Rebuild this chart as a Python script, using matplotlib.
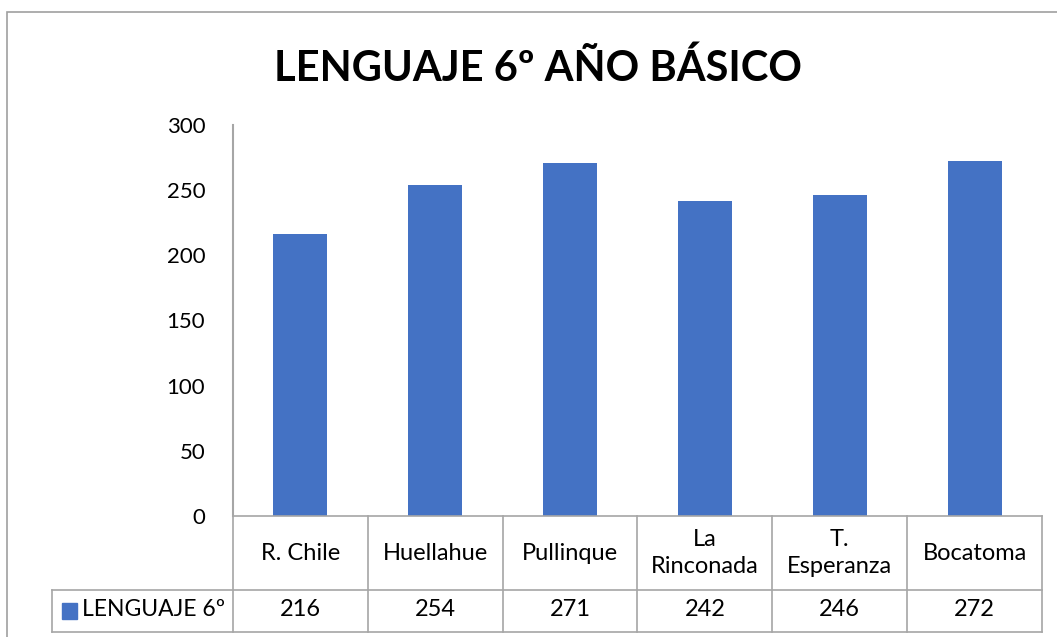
import matplotlib.pyplot as plt
from matplotlib.patches import Rectangle
import matplotlib.transforms as mtransforms

# Datos
escuelas = ['R. Chile', 'Huellahue', 'Pullinque', 'La\nRinconada', 'T.\nEsperanza', 'Bocatoma']
puntajes = [216, 254, 271, 242, 246, 272]
serie = 'LENGUAJE 6º'
titulo = 'LENGUAJE 6º AÑO BÁSICO'
y_ticks = [0, 50, 100, 150, 200, 250, 300]

azul = '#4472C4'
gris = '#A6A6A6'
fuente = 'Lato'

W, H = 1057, 637
fig = plt.figure(figsize=(W / 100, H / 100), dpi=100)

# borde del gráfico
fig.patches.append(Rectangle((7 / W, -0.05), 1.1, 1 - 12 / H + 0.05,
                             transform=fig.transFigure, fill=False,
                             edgecolor='#A0A0A0', linewidth=1.2))

ax = fig.add_axes([233 / W, (H - 516) / H, 809 / W, 391 / H])
x = range(len(escuelas))
ax.bar(x, puntajes, width=0.4, color=azul, zorder=2)
ax.set_xlim(-0.5, len(escuelas) - 0.5)
ax.set_ylim(0, 300)
ax.set_yticks(y_ticks)
ax.set_yticklabels([str(v) for v in y_ticks], fontsize=16, family=fuente)
ax.tick_params(axis='y', length=0, pad=20)
ax.set_xticks([])
for s in ['top', 'right', 'bottom']:
    ax.spines[s].set_visible(False)
ax.spines['left'].set_color(gris)
ax.spines['left'].set_linewidth(1.5)

fig.text(538 / W, 1 - 68 / H, titulo, ha='center', va='center',
         fontsize=30, fontweight='bold', family=fuente)

# tabla de datos
tr = mtransforms.blended_transform_factory(ax.transData, ax.transAxes)
y0 = 0.0
y1 = (516 - 590) / 391
y2 = (516 - 632) / 391
xl = (52 - 233) / (809 / len(escuelas)) - 0.5
n = len(escuelas)
lk = dict(color=gris, linewidth=1.2, transform=tr, clip_on=False)
ax.plot([-0.5, n - 0.5], [y0, y0], **lk)
ax.plot([xl, n - 0.5], [y1, y1], **lk)
ax.plot([xl, n - 0.5], [y2, y2], **lk)
ax.plot([xl, xl], [y1, y2], **lk)
for i in range(n + 1):
    ax.plot([i - 0.5, i - 0.5], [y0, y2], **lk)

for i, (nom, v) in enumerate(zip(escuelas, puntajes)):
    ax.text(i, (y0 + y1) / 2, nom, transform=tr, ha='center', va='center',
            fontsize=17, family=fuente, linespacing=1.35)
    ax.text(i, (y1 + y2) / 2 + 0.005, str(v), transform=tr, ha='center', va='center',
            fontsize=17, family=fuente)

# leyenda en la tabla
ax.add_patch(Rectangle((xl + 0.074, (y1 + y2) / 2 - 0.02), 0.111, 0.04,
                       transform=tr, color=azul, clip_on=False))
ax.text(xl + 0.222, (y1 + y2) / 2 + 0.005, serie, transform=tr, ha='left', va='center',
        fontsize=16.5, family=fuente)

fig.savefig('out.png', dpi=100)
